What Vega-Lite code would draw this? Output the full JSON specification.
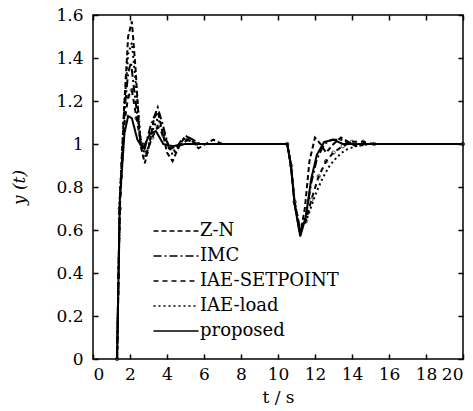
{
  "$schema": "https://vega.github.io/schema/vega-lite/v6.json",
  "autosize": {"type": "none"},
  "padding": {"left": 93, "top": 15, "right": 10, "bottom": 52},
  "width": 370,
  "height": 344,
  "background": "white",
  "config": {
    "view": {"stroke": "black", "strokeWidth": 1.5},
    "font": "DejaVu Serif",
    "axis": {
      "domain": false, "grid": false, "tickSize": -5, "tickColor": "black", "tickWidth": 1.5,
      "labelFont": "DejaVu Serif", "labelFontSize": 17, "labelColor": "black",
      "titleFont": "DejaVu Serif", "titleFontSize": 17, "titleColor": "black", "titleFontWeight": "normal"
    },
    "legend": {"labelFont": "DejaVu Serif", "labelFontSize": 18, "labelColor": "black"}
  },
  "data": {"values": [
    {"s":"Z-N","t":1.3,"y":0},{"s":"Z-N","t":1.45,"y":0.75},{"s":"Z-N","t":1.7,"y":1.2},{"s":"Z-N","t":1.9,"y":1.5},{"s":"Z-N","t":2.1,"y":1.57},{"s":"Z-N","t":2.3,"y":1.35},{"s":"Z-N","t":2.55,"y":1.0},{"s":"Z-N","t":2.8,"y":0.91},{"s":"Z-N","t":3.05,"y":1.0},{"s":"Z-N","t":3.3,"y":1.12},{"s":"Z-N","t":3.5,"y":1.15},{"s":"Z-N","t":3.75,"y":1.06},{"s":"Z-N","t":4.0,"y":0.96},{"s":"Z-N","t":4.3,"y":0.92},{"s":"Z-N","t":4.6,"y":0.98},{"s":"Z-N","t":5.0,"y":1.04},{"s":"Z-N","t":5.3,"y":1.02},{"s":"Z-N","t":5.7,"y":0.98},{"s":"Z-N","t":6.1,"y":1.0},{"s":"Z-N","t":6.5,"y":1.02},{"s":"Z-N","t":7.0,"y":1.0},{"s":"Z-N","t":10.5,"y":1.0},{"s":"Z-N","t":10.7,"y":0.9},{"s":"Z-N","t":10.9,"y":0.72},{"s":"Z-N","t":11.2,"y":0.58},{"s":"Z-N","t":11.45,"y":0.7},{"s":"Z-N","t":11.7,"y":0.92},{"s":"Z-N","t":12.0,"y":1.03},{"s":"Z-N","t":12.3,"y":1.0},{"s":"Z-N","t":12.6,"y":0.96},{"s":"Z-N","t":13.0,"y":1.0},{"s":"Z-N","t":13.4,"y":1.03},{"s":"Z-N","t":13.8,"y":1.01},{"s":"Z-N","t":14.2,"y":0.99},{"s":"Z-N","t":14.8,"y":1.0},{"s":"Z-N","t":20,"y":1.0},
    {"s":"IMC","t":1.3,"y":0},{"s":"IMC","t":1.45,"y":0.72},{"s":"IMC","t":1.7,"y":1.15},{"s":"IMC","t":1.9,"y":1.33},{"s":"IMC","t":2.05,"y":1.38},{"s":"IMC","t":2.3,"y":1.2},{"s":"IMC","t":2.55,"y":1.03},{"s":"IMC","t":2.8,"y":0.98},{"s":"IMC","t":3.1,"y":1.08},{"s":"IMC","t":3.5,"y":1.17},{"s":"IMC","t":3.8,"y":1.08},{"s":"IMC","t":4.1,"y":0.98},{"s":"IMC","t":4.4,"y":0.97},{"s":"IMC","t":4.8,"y":1.02},{"s":"IMC","t":5.2,"y":1.03},{"s":"IMC","t":5.8,"y":1.0},{"s":"IMC","t":10.5,"y":1.0},{"s":"IMC","t":10.7,"y":0.9},{"s":"IMC","t":10.9,"y":0.72},{"s":"IMC","t":11.2,"y":0.59},{"s":"IMC","t":11.5,"y":0.66},{"s":"IMC","t":11.8,"y":0.82},{"s":"IMC","t":12.1,"y":0.93},{"s":"IMC","t":12.5,"y":1.0},{"s":"IMC","t":12.9,"y":1.02},{"s":"IMC","t":13.4,"y":1.02},{"s":"IMC","t":14.0,"y":1.0},{"s":"IMC","t":20,"y":1.0},
    {"s":"IAE-SETPOINT","t":1.3,"y":0},{"s":"IAE-SETPOINT","t":1.45,"y":0.7},{"s":"IAE-SETPOINT","t":1.7,"y":1.1},{"s":"IAE-SETPOINT","t":1.9,"y":1.22},{"s":"IAE-SETPOINT","t":2.1,"y":1.25},{"s":"IAE-SETPOINT","t":2.35,"y":1.12},{"s":"IAE-SETPOINT","t":2.6,"y":1.0},{"s":"IAE-SETPOINT","t":2.9,"y":0.96},{"s":"IAE-SETPOINT","t":3.2,"y":1.03},{"s":"IAE-SETPOINT","t":3.5,"y":1.08},{"s":"IAE-SETPOINT","t":3.8,"y":1.04},{"s":"IAE-SETPOINT","t":4.2,"y":0.98},{"s":"IAE-SETPOINT","t":4.6,"y":0.99},{"s":"IAE-SETPOINT","t":5.1,"y":1.02},{"s":"IAE-SETPOINT","t":5.6,"y":1.0},{"s":"IAE-SETPOINT","t":10.5,"y":1.0},{"s":"IAE-SETPOINT","t":10.7,"y":0.9},{"s":"IAE-SETPOINT","t":10.9,"y":0.73},{"s":"IAE-SETPOINT","t":11.2,"y":0.6},{"s":"IAE-SETPOINT","t":11.5,"y":0.64},{"s":"IAE-SETPOINT","t":11.8,"y":0.74},{"s":"IAE-SETPOINT","t":12.2,"y":0.85},{"s":"IAE-SETPOINT","t":12.6,"y":0.92},{"s":"IAE-SETPOINT","t":13.0,"y":0.96},{"s":"IAE-SETPOINT","t":13.5,"y":0.99},{"s":"IAE-SETPOINT","t":14.0,"y":1.01},{"s":"IAE-SETPOINT","t":14.6,"y":1.01},{"s":"IAE-SETPOINT","t":15.2,"y":1.0},{"s":"IAE-SETPOINT","t":20,"y":1.0},
    {"s":"IAE-load","t":1.3,"y":0},{"s":"IAE-load","t":1.45,"y":0.74},{"s":"IAE-load","t":1.7,"y":1.18},{"s":"IAE-load","t":1.9,"y":1.42},{"s":"IAE-load","t":2.1,"y":1.47},{"s":"IAE-load","t":2.35,"y":1.25},{"s":"IAE-load","t":2.6,"y":1.0},{"s":"IAE-load","t":2.85,"y":0.94},{"s":"IAE-load","t":3.2,"y":1.06},{"s":"IAE-load","t":3.5,"y":1.12},{"s":"IAE-load","t":3.85,"y":1.04},{"s":"IAE-load","t":4.3,"y":0.95},{"s":"IAE-load","t":4.7,"y":0.99},{"s":"IAE-load","t":5.1,"y":1.02},{"s":"IAE-load","t":5.7,"y":1.0},{"s":"IAE-load","t":10.5,"y":1.0},{"s":"IAE-load","t":10.7,"y":0.9},{"s":"IAE-load","t":10.9,"y":0.73},{"s":"IAE-load","t":11.2,"y":0.6},{"s":"IAE-load","t":11.6,"y":0.66},{"s":"IAE-load","t":12.0,"y":0.76},{"s":"IAE-load","t":12.4,"y":0.84},{"s":"IAE-load","t":12.8,"y":0.9},{"s":"IAE-load","t":13.2,"y":0.94},{"s":"IAE-load","t":13.6,"y":0.97},{"s":"IAE-load","t":14.2,"y":0.99},{"s":"IAE-load","t":15.0,"y":1.0},{"s":"IAE-load","t":20,"y":1.0},
    {"s":"proposed","t":1.3,"y":0},{"s":"proposed","t":1.45,"y":0.74},{"s":"proposed","t":1.7,"y":1.05},{"s":"proposed","t":1.9,"y":1.13},{"s":"proposed","t":2.1,"y":1.12},{"s":"proposed","t":2.4,"y":1.02},{"s":"proposed","t":2.7,"y":0.98},{"s":"proposed","t":3.1,"y":1.05},{"s":"proposed","t":3.4,"y":1.06},{"s":"proposed","t":3.8,"y":1.0},{"s":"proposed","t":4.3,"y":0.99},{"s":"proposed","t":5.0,"y":1.0},{"s":"proposed","t":10.5,"y":1.0},{"s":"proposed","t":10.7,"y":0.9},{"s":"proposed","t":10.9,"y":0.72},{"s":"proposed","t":11.2,"y":0.57},{"s":"proposed","t":11.5,"y":0.66},{"s":"proposed","t":11.8,"y":0.84},{"s":"proposed","t":12.1,"y":0.95},{"s":"proposed","t":12.5,"y":1.01},{"s":"proposed","t":13.0,"y":1.02},{"s":"proposed","t":13.5,"y":1.0},{"s":"proposed","t":20,"y":1.0}
  ]},
  "layer": [
    {
      "mark": {"type": "line", "color": "black", "strokeWidth": 2},
      "encoding": {
        "x": {"field": "t", "type": "quantitative", "scale": {"domain": [0, 20], "nice": false},
              "axis": {"values": [0,2,4,6,8,10,12,14,16,18,20], "title": "t / s", "titlePadding": 7, "labelPadding": 12}},
        "y": {"field": "y", "type": "quantitative", "scale": {"domain": [0, 1.6], "nice": false},
              "axis": {"values": [0,0.2,0.4,0.6,0.8,1,1.2,1.4,1.6], "format": "~g", "title": "y (t)", "titleFontStyle": "italic", "titlePadding": 27, "labelPadding": 15}},
        "strokeDash": {"field": "s", "type": "nominal",
          "scale": {"domain": ["Z-N","IMC","IAE-SETPOINT","IAE-load","proposed"],
                    "range": [[5,3],[8,3,2,3],[5,4],[2,3],[1,0]]},
          "legend": {"title": null, "orient": "none", "legendX": 74, "legendY": 207,
                     "symbolType": "M-3,0H3", "symbolSize": 225, "symbolStrokeColor": "black", "symbolStrokeWidth": 1.5,
                     "labelOffset": 15, "rowPadding": 7}},
        "order": {"field": "t", "type": "quantitative"}
      }
    },
    {
      "transform": [{"filter": "datum.s === 'IAE-SETPOINT'"}],
      "mark": {"type": "point", "shape": "circle", "size": 12, "color": "black", "strokeWidth": 1, "filled": false},
      "encoding": {
        "x": {"field": "t", "type": "quantitative", "axis": {"orient": "top", "labels": false, "title": null, "values": [0,2,4,6,8,10,12,14,16,18,20]}},
        "y": {"field": "y", "type": "quantitative", "axis": {"orient": "right", "labels": false, "title": null, "values": [0,0.2,0.4,0.6,0.8,1,1.2,1.4,1.6]}}
      }
    }
  ],
  "resolve": {"axis": {"x": "independent", "y": "independent"}}
}
